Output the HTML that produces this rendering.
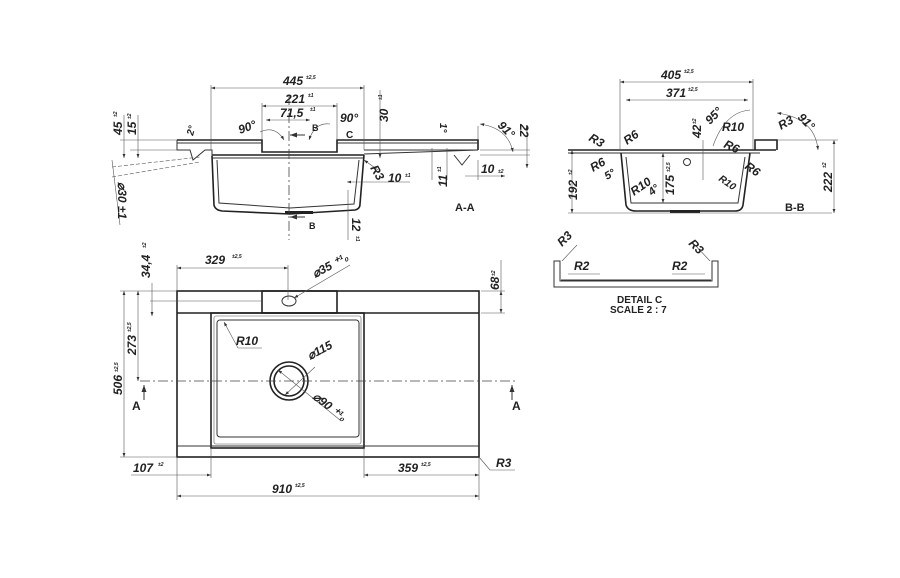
<!DOCTYPE html>
<html><head><meta charset="utf-8"><style>
html,body{margin:0;padding:0;background:#fff;width:900px;height:578px;overflow:hidden}
svg{display:block}
text{font-family:"Liberation Sans",sans-serif;font-weight:bold;font-style:italic;fill:#222}
.t{font-size:12px}.s{font-size:5px}.u{font-style:normal}
.l{stroke:#333;stroke-width:1;fill:none}
.h{stroke:#222;stroke-width:1.6;fill:none}
.d{stroke:#555;stroke-width:0.6;fill:none}
.c{stroke:#444;stroke-width:0.8;fill:none;stroke-dasharray:10 3 2 3}
</style></head><body>
<svg width="900" height="578" viewBox="0 0 900 578" xmlns="http://www.w3.org/2000/svg">
<defs><marker id="a" markerWidth="8" markerHeight="6" refX="7" refY="3" orient="auto-start-reverse"><path d="M0,0.5 L7,3 L0,5.5z" fill="#333"/></marker></defs>

<!-- ===== PLAN VIEW ===== -->
<rect x="177" y="291" width="302" height="166" class="h"/>
<line x1="177" y1="313" x2="479" y2="313" class="h"/>
<rect x="262" y="291" width="75" height="22" class="h"/>
<ellipse cx="289" cy="301" rx="7" ry="5" class="l"/>
<rect x="211" y="313" width="153" height="135" class="h"/>
<rect x="217" y="320" width="142" height="117" class="l" rx="3"/>
<rect x="214" y="316" width="147" height="128" class="d" rx="2"/>
<line x1="177" y1="446" x2="479" y2="446" class="l"/>
<circle cx="289" cy="381" r="19" class="h"/>
<circle cx="289" cy="381" r="15" class="h"/>
<line x1="140" y1="381" x2="515" y2="381" class="c"/>
<!-- plan dims -->
<line x1="177" y1="268" x2="288" y2="268" class="d" marker-start="url(#a)" marker-end="url(#a)"/>
<line x1="177" y1="265" x2="177" y2="291" class="d"/><line x1="288" y1="265" x2="288" y2="300" class="d"/>
<text x="205" y="264" class="t">329</text><text x="232" y="258" class="s">±2,5</text>
<line x1="294" y1="298" x2="350" y2="265" class="d" marker-start="url(#a)"/>
<text x="315" y="278" class="t" transform="rotate(-28 315 278)">⌀35 ⁺¹₀</text>
<line x1="177" y1="496" x2="479" y2="496" class="d" marker-start="url(#a)" marker-end="url(#a)"/>
<line x1="177" y1="457" x2="177" y2="500" class="d"/><line x1="479" y1="457" x2="479" y2="500" class="d"/>
<text x="272" y="493" class="t">910</text><text x="295" y="487" class="s">±2,5</text>
<line x1="131" y1="475" x2="211" y2="475" class="d" marker-end="url(#a)"/>
<line x1="211" y1="448" x2="211" y2="478" class="d"/>
<text x="133" y="472" class="t">107</text><text x="158" y="466" class="s">±2</text>
<line x1="364" y1="475" x2="479" y2="475" class="d" marker-start="url(#a)" marker-end="url(#a)"/>
<line x1="364" y1="448" x2="364" y2="478" class="d"/>
<text x="398" y="472" class="t">359</text><text x="421" y="466" class="s">±2,5</text>
<line x1="479" y1="457" x2="490" y2="470" class="d"/><line x1="490" y1="470" x2="515" y2="470" class="d"/>
<text x="496" y="467" class="t">R3</text>
<line x1="124" y1="291" x2="124" y2="457" class="d" marker-start="url(#a)" marker-end="url(#a)"/>
<line x1="120" y1="291" x2="177" y2="291" class="d"/><line x1="120" y1="457" x2="177" y2="457" class="d"/>
<text x="122" y="395" class="t" transform="rotate(-90 122 395)">506</text><text x="118" y="372" class="s" transform="rotate(-90 118 372)">±2,5</text>
<line x1="138" y1="291" x2="138" y2="381" class="d" marker-start="url(#a)" marker-end="url(#a)"/>
<text x="136" y="355" class="t" transform="rotate(-90 136 355)">273</text><text x="131" y="332" class="s" transform="rotate(-90 131 332)">±2,5</text>
<line x1="152" y1="283" x2="152" y2="316" class="d" marker-end="url(#a)"/>
<line x1="150" y1="301" x2="262" y2="301" class="d"/>
<text x="150" y="278" class="t" transform="rotate(-90 150 278)">34,4</text><text x="146" y="248" class="s" transform="rotate(-90 146 248)">±2</text>
<line x1="481" y1="291" x2="505" y2="291" class="d"/><line x1="481" y1="313" x2="505" y2="313" class="d"/>
<line x1="501" y1="291" x2="501" y2="313" class="d" marker-start="url(#a)" marker-end="url(#a)"/>
<line x1="501" y1="260" x2="501" y2="291" class="d"/>
<text x="499" y="290" class="t" transform="rotate(-90 499 290)">68</text><text x="495" y="276" class="s" transform="rotate(-90 495 276)">±2</text>
<line x1="224" y1="322" x2="238" y2="348" class="d" marker-start="url(#a)"/><line x1="238" y1="348" x2="262" y2="348" class="d"/>
<text x="236" y="345" class="t">R10</text>
<line x1="315" y1="367" x2="285" y2="395" class="d" marker-end="url(#a)"/>
<text x="310" y="360" class="t" transform="rotate(-28 310 360)">⌀115</text>
<line x1="278" y1="370" x2="340" y2="420" class="d" marker-start="url(#a)"/>
<text x="312" y="398" class="t" transform="rotate(38 312 398)">⌀90 ⁺¹₀</text>
<line x1="144" y1="400" x2="144" y2="385" class="l" marker-end="url(#a)"/><text x="132" y="410" class="t u">A</text>
<line x1="512" y1="400" x2="512" y2="385" class="l" marker-end="url(#a)"/><text x="512" y="410" class="t u">A</text>

<!-- ===== SECTION A-A ===== -->
<path d="M177,140 L262,140 L262,152 L337,152 L337,140 L478,140 L478,150" class="h"/>
<line x1="177" y1="143" x2="262" y2="143" class="l"/><line x1="337" y1="143" x2="478" y2="143" class="l"/>
<path d="M177,140 L177,150 L190,150 L193,160 L205,150 L212,150 L212,156" class="l"/>
<line x1="212" y1="155" x2="364" y2="155" class="h"/>
<line x1="212" y1="158" x2="364" y2="158" class="l"/>
<path d="M212,156 L214,205 Q215,210 222,211 L290,214 L355,210 Q360,209 360,204 L364,155" class="h"/>
<path d="M217,160 L219,203 L290,208 L354,204 L359,160" class="l"/>
<path d="M364,154 L478,150" class="l"/>
<path d="M364,150 L478,150" class="l"/>
<path d="M454,155 L462,165 L470,155" class="l"/>
<rect x="285" y="211" width="28" height="3" fill="#222"/>
<line x1="289" y1="95" x2="289" y2="240" class="c"/>
<line x1="211" y1="88" x2="364" y2="88" class="d" marker-start="url(#a)" marker-end="url(#a)"/>
<line x1="211" y1="85" x2="211" y2="150" class="d"/><line x1="364" y1="85" x2="364" y2="150" class="d"/>
<text x="283" y="85" class="t">445</text><text x="306" y="79" class="s">±2,5</text>
<line x1="262" y1="106" x2="337" y2="106" class="d" marker-start="url(#a)" marker-end="url(#a)"/>
<line x1="262" y1="103" x2="262" y2="140" class="d"/><line x1="337" y1="103" x2="337" y2="140" class="d"/>
<text x="285" y="103" class="t">221</text><text x="308" y="97" class="s">±1</text>
<line x1="266" y1="120" x2="310" y2="120" class="d" marker-start="url(#a)" marker-end="url(#a)"/>
<text x="280" y="117" class="t">71,5</text><text x="310" y="111" class="s">±1</text>
<path d="M260,132 Q275,125 284,140" class="d" marker-end="url(#a)"/><text x="240" y="134" class="t" transform="rotate(-20 240 134)">90°</text>
<path d="M309,140 Q315,122 330,124" class="d" marker-start="url(#a)"/><text x="340" y="122" class="t">90°</text>
<line x1="290" y1="135" x2="305" y2="135" class="l" marker-start="url(#a)"/><text x="312" y="131" class="s u" style="font-size:9px">B</text>
<text x="346" y="138" class="t u" style="font-size:10px">C</text>
<line x1="290" y1="217" x2="305" y2="217" class="l" marker-start="url(#a)"/><text x="309" y="229" class="s u" style="font-size:9px">B</text>
<text x="193" y="136" class="t" style="font-size:10px" transform="rotate(-75 193 136)">2°</text>
<line x1="124" y1="115" x2="124" y2="158" class="d" marker-end="url(#a)"/><line x1="138" y1="115" x2="138" y2="158" class="d" marker-end="url(#a)"/>
<line x1="120" y1="140" x2="177" y2="140" class="d"/><line x1="130" y1="150" x2="177" y2="150" class="d"/>
<text x="122" y="135" class="t" transform="rotate(-90 122 135)">45</text><text x="117" y="117" class="s" transform="rotate(-90 117 117)">±2</text>
<text x="136" y="135" class="t" transform="rotate(-90 136 135)">15</text><text x="131" y="119" class="s" transform="rotate(-90 131 119)">±2</text>
<line x1="112" y1="167" x2="200" y2="157" class="d" stroke-dasharray="4 2"/><line x1="112" y1="177" x2="200" y2="162" class="d" stroke-dasharray="4 2"/>
<line x1="112" y1="160" x2="120" y2="225" class="d"/>
<text x="118" y="182" class="t" transform="rotate(90 118 182)">⌀30 ±1</text>
<line x1="380" y1="90" x2="380" y2="158" class="d" marker-end="url(#a)"/>
<text x="388" y="122" class="t" transform="rotate(-90 388 122)">30</text><text x="382" y="100" class="s" transform="rotate(-90 382 100)">±1</text>
<line x1="432" y1="148" x2="432" y2="180" class="d"/><line x1="447" y1="148" x2="447" y2="180" class="d"/>
<text x="440" y="123" class="t" style="font-size:10px" transform="rotate(90 440 123)">1°</text>
<text x="447" y="187" class="t" transform="rotate(-90 447 187)">11</text><text x="441" y="172" class="s" transform="rotate(-90 441 172)">±1</text>
<line x1="478" y1="126" x2="478" y2="140" class="d"/>
<path d="M480,124 Q508,128 513,152" class="d" marker-start="url(#a)" marker-end="url(#a)"/>
<text x="497" y="126" class="t" transform="rotate(45 497 126)">91°</text>
<line x1="527" y1="125" x2="527" y2="168" class="d" marker-start="url(#a)" marker-end="url(#a)"/>
<text x="520" y="124" class="t" transform="rotate(90 520 124)">22</text>
<line x1="480" y1="150" x2="530" y2="150" class="d"/><line x1="480" y1="155" x2="530" y2="155" class="d"/>
<line x1="465" y1="176" x2="505" y2="176" class="d" marker-end="url(#a)"/>
<line x1="478" y1="160" x2="478" y2="180" class="d"/>
<text x="481" y="173" class="t">10</text><text x="498" y="173" class="s">±2</text>
<line x1="347" y1="182" x2="410" y2="182" class="d" marker-start="url(#a)"/>
<text x="388" y="182" class="t">10</text><text x="405" y="177" class="s">±1</text>
<line x1="364" y1="160" x2="378" y2="170" class="d" marker-start="url(#a)"/>
<text x="370" y="168" class="t" transform="rotate(60 370 168)">R3</text>
<line x1="348" y1="190" x2="348" y2="240" class="d"/>
<text x="352" y="218" class="t" transform="rotate(90 352 218)">12</text><text x="356" y="236" class="s" transform="rotate(90 356 236)">±1</text>
<text x="455" y="211" class="t u" style="font-size:11px">A-A</text>

<!-- ===== SECTION B-B ===== -->
<line x1="568" y1="150" x2="776" y2="150" class="h"/>
<line x1="568" y1="153" x2="760" y2="153" class="l"/>
<path d="M755,150 L755,140 L777,140 L777,150" class="h"/>
<path d="M621,153 L626,205 Q628,211 636,211 L735,211 Q742,211 743,205 L750,153" class="h"/>
<path d="M626,157 L631,203 L738,203 L745,157" class="l"/>
<rect x="670" y="210" width="30" height="3" fill="#222"/>
<circle cx="687" cy="162" r="3.5" class="l"/>
<line x1="620" y1="82" x2="753" y2="82" class="d" marker-start="url(#a)" marker-end="url(#a)"/>
<line x1="620" y1="79" x2="620" y2="150" class="d"/><line x1="753" y1="79" x2="753" y2="150" class="d"/>
<text x="661" y="79" class="t">405</text><text x="684" y="73" class="s">±2,5</text>
<line x1="626" y1="100" x2="748" y2="100" class="d" marker-start="url(#a)" marker-end="url(#a)"/>
<text x="666" y="97" class="t">371</text><text x="688" y="91" class="s">±2,5</text>
<line x1="572" y1="150" x2="572" y2="213" class="d" marker-start="url(#a)" marker-end="url(#a)"/>
<line x1="568" y1="213" x2="832" y2="213" class="d"/>
<text x="577" y="200" class="t" transform="rotate(-90 577 200)">192</text><text x="572" y="175" class="s" transform="rotate(-90 572 175)">±2</text>
<line x1="834" y1="140" x2="834" y2="213" class="d" marker-start="url(#a)" marker-end="url(#a)"/>
<line x1="777" y1="140" x2="838" y2="140" class="d"/>
<text x="832" y="192" class="t" transform="rotate(-90 832 192)">222</text><text x="826" y="168" class="s" transform="rotate(-90 826 168)">±2</text>
<line x1="663" y1="153" x2="663" y2="203" class="d" marker-start="url(#a)" marker-end="url(#a)"/>
<text x="674" y="195" class="t" transform="rotate(-90 674 195)">175</text><text x="670" y="172" class="s" transform="rotate(-90 670 172)">±2,5</text>
<line x1="703" y1="140" x2="703" y2="180" class="d"/>
<text x="701" y="138" class="t" transform="rotate(-90 701 138)">42</text><text x="696" y="124" class="s" transform="rotate(-90 696 124)">±2</text>
<path d="M713,146 Q725,112 750,110" class="d"/><text x="710" y="125" class="t" transform="rotate(-45 710 125)">95°</text>
<path d="M777,113 Q815,118 818,150" class="d" marker-start="url(#a)" marker-end="url(#a)"/><text x="797" y="118" class="t" transform="rotate(45 797 118)">91°</text>
<text x="722" y="131" class="t">R10</text>
<text x="723" y="147" class="t" transform="rotate(25 723 147)">R6</text>
<text x="744" y="168" class="t" transform="rotate(35 744 168)">R6</text>
<text x="781" y="130" class="t" transform="rotate(-30 781 130)">R3</text>
<text x="588" y="140" class="t" transform="rotate(30 588 140)">R3</text>
<text x="627" y="145" class="t" transform="rotate(-35 627 145)">R6</text>
<text x="593" y="172" class="t" transform="rotate(-30 593 172)">R6</text>
<text x="607" y="180" class="t" style="font-size:11px" transform="rotate(-30 607 180)">5°</text>
<text x="634" y="196" class="t" transform="rotate(-35 634 196)">R10</text>
<text x="652" y="196" class="t" style="font-size:11px" transform="rotate(-40 652 196)">4°</text>
<text x="718" y="180" class="t" style="font-size:10px" transform="rotate(35 718 180)">R10</text>
<text x="785" y="211" class="t u" style="font-size:11px">B-B</text>

<!-- ===== DETAIL C ===== -->
<path d="M554,261 L554,287 L718,287 L718,261 L712,261 L712,281 L560,281 L560,261 Z" class="l"/>
<line x1="561" y1="280" x2="711" y2="280" class="l"/>
<line x1="562" y1="261" x2="577" y2="245" class="d"/><text x="562" y="247" class="t" transform="rotate(-45 562 247)">R3</text>
<line x1="568" y1="274" x2="600" y2="274" class="d"/><text x="574" y="270" class="t">R2</text>
<line x1="710" y1="261" x2="695" y2="245" class="d"/><text x="688" y="244" class="t" transform="rotate(45 688 244)">R3</text>
<line x1="672" y1="274" x2="705" y2="274" class="d"/><text x="672" y="270" class="t">R2</text>
<text x="617" y="303" class="t u" style="font-size:10px">DETAIL C</text>
<text x="610" y="313" class="t u" style="font-size:10px">SCALE 2 : 7</text>
</svg>
</body></html>
